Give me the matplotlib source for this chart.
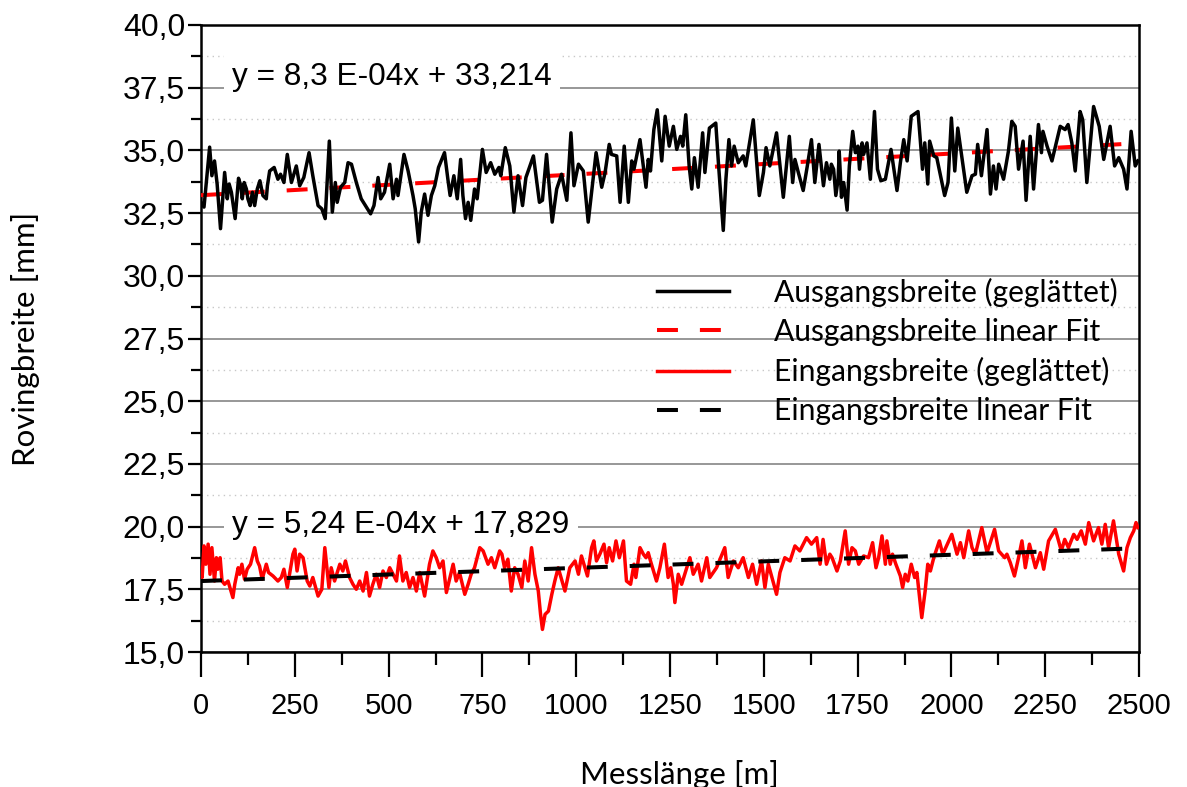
import matplotlib
matplotlib.use("Agg")
import matplotlib.pyplot as plt
from matplotlib.ticker import MultipleLocator, FixedLocator, FixedFormatter

# ---------------- data ----------------
out_x = [0, 8, 23, 29, 36, 43, 52, 63, 70, 75, 81, 91, 100, 106, 110, 115, 121, 125, 131, 137,
         143, 150, 157, 165, 174, 177, 183, 195, 205, 212, 221, 230, 241, 254, 263, 274, 288, 298,
         312, 322, 331, 342, 350, 358, 363, 372, 383, 392, 401, 414, 427, 452, 461, 472, 479, 489,
         503, 512, 521, 525, 541, 552, 565, 571, 580, 587, 596, 605, 614, 623, 633, 649, 658, 664,
         674, 683, 692, 698, 705, 712, 719, 729, 736, 750, 760, 772, 783, 794, 799, 811, 823, 834,
         845,
         857, 866, 886, 902, 910, 921, 936, 948, 961, 975, 986, 994, 1006, 1019, 1032, 1053, 1068,
         1077, 1088, 1094, 1108, 1117, 1128, 1139, 1148, 1154, 1170, 1186, 1192, 1198, 1207, 1216,
         1228, 1237, 1248, 1259, 1268, 1278, 1284, 1292, 1301, 1308, 1315, 1325, 1337, 1343, 1355,
         1372, 1379, 1386, 1392, 1399, 1407, 1414, 1421, 1432, 1445, 1452, 1472, 1488, 1499, 1506,
         1516, 1534, 1552, 1568, 1577, 1583, 1592, 1605, 1616, 1627, 1636, 1647, 1659, 1667, 1676,
         1680, 1686, 1692, 1698, 1701, 1707, 1713, 1722, 1728, 1737, 1744, 1751, 1755, 1762, 1766,
         1775, 1784, 1795, 1803, 1812, 1824, 1839, 1855, 1864, 1873, 1882, 1893, 1911, 1917, 1923,
         1929, 1937, 1942, 1953, 1961, 1982, 1991, 2000, 2009, 2017, 2041, 2055, 2064, 2070, 2080,
         2095, 2104, 2112, 2119, 2126, 2139, 2152, 2161, 2170, 2179, 2191, 2199, 2210, 2219, 2232,
         2240, 2244, 2255, 2268, 2290, 2303, 2311, 2321, 2330, 2343, 2350, 2361, 2379, 2394, 2406,
         2423, 2435, 2446, 2459, 2468, 2479, 2490, 2497]
out_w = [32.93, 32.74, 35.13, 33.99, 34.58, 33.66, 31.88, 34.12, 33.07, 33.66, 33.33, 32.28, 33.89,
         33.59, 33.07, 33.72, 33.46, 33.07, 32.80, 33.33, 32.80, 33.46, 33.79, 33.20, 33.07, 33.59,
         34.18, 34.32, 33.85, 34.05, 33.72, 34.84, 33.72, 34.38, 33.59, 33.92, 34.91, 33.99, 32.80,
         32.67, 32.28, 35.37, 32.54, 33.72, 32.93, 33.53, 33.72, 34.51, 34.45, 33.72, 33.07, 32.47,
         32.80, 33.92, 33.07, 33.33, 34.45, 33.07, 33.85, 33.20, 34.84, 34.18, 33.20, 32.67, 31.35,
         32.54, 33.26, 32.41, 33.20, 33.59, 34.32, 34.91, 33.85, 33.20, 33.99, 33.07, 34.64, 33.20,
         32.28, 32.93, 32.21, 33.46, 33.07, 35.04, 34.12, 34.51, 34.05, 34.32, 33.99, 35.11, 34.38,
         32.54, 33.99,
         32.80, 33.92, 34.78, 32.93, 33.01, 34.84, 32.14, 33.46, 34.05, 33.01, 35.70, 33.59, 34.45,
         34.18, 32.14, 34.91, 33.53, 34.12, 35.24, 34.84, 34.78, 32.93, 35.17, 32.93, 34.58, 34.25,
         35.43, 33.53, 34.64, 34.18, 35.83, 36.62, 34.58, 36.36, 35.17, 35.96, 35.04, 35.56, 35.17,
         36.42, 34.38, 33.46, 34.71, 33.53, 35.70, 34.12, 35.89, 36.09, 34.51, 33.07, 31.81, 33.85,
         35.43, 34.38, 35.17, 34.51, 34.78, 34.38, 36.22, 33.20, 34.12, 35.11, 34.38, 35.70, 33.13,
         35.56, 33.72, 34.64, 34.12, 33.40, 34.38, 35.43, 33.72, 35.24, 33.59, 34.51, 33.85,
         34.45, 34.25, 33.20, 33.85, 34.97, 33.13, 33.72, 32.62, 34.38, 35.76, 34.91, 35.17, 34.25,
         35.30, 34.84, 35.30, 33.85, 36.55, 34.25, 33.79, 33.85, 35.04, 33.40, 34.51, 35.43, 34.58,
         36.36, 36.55, 35.43, 34.25, 35.30, 33.66, 35.37, 34.78, 34.71, 33.20, 33.72, 36.29, 34.18,
         35.89, 33.33, 33.99, 34.05, 35.24, 33.99, 35.83, 33.26, 34.38, 33.46, 34.45, 33.85, 34.97,
         36.16, 35.96, 34.25, 35.37, 33.01, 35.56, 33.46, 36.03, 34.91, 35.76, 35.17, 34.58, 35.96,
         35.83, 36.03, 35.30, 34.18, 36.55, 36.22, 33.72, 36.75, 35.96, 34.64, 35.96, 34.38, 34.71,
         34.25, 33.46, 35.76, 34.38, 34.58]

in_x = [0, 3, 8, 13, 19, 24, 29, 36, 41, 45, 51, 56, 63, 72, 85, 90, 99, 103, 109, 116, 123, 132,
        143, 150, 156, 163, 174, 180, 192, 205, 214, 221, 230, 239, 245, 250, 256, 263, 272, 283,
        290, 298, 312, 322, 330, 341, 347, 356, 370, 378, 385, 396, 405, 414, 423, 432, 441, 449,
        458, 467, 476, 485, 494, 503, 512, 521, 529, 538, 547, 556, 565, 574, 583, 596, 609, 618,
        627, 636, 645, 654, 672, 680, 689, 703, 712, 720, 729, 743, 752, 765, 774, 783, 796, 802,
        809, 818, 827, 836, 845,
        855, 863, 872, 881, 890, 899, 905, 910, 917, 926, 935, 943, 952, 970, 983, 997, 1006, 1014,
        1030, 1041, 1047, 1054, 1063, 1074, 1081, 1088, 1097, 1106, 1115, 1126, 1134, 1145, 1154,
        1159, 1170, 1179, 1186, 1192, 1198, 1214, 1223, 1235, 1245, 1252, 1259, 1263, 1272, 1281,
        1303, 1312, 1325, 1334, 1348, 1356, 1374, 1396, 1405, 1419, 1432, 1445, 1459, 1470, 1481,
        1494, 1503, 1512, 1534, 1543, 1556, 1570, 1583, 1596, 1614, 1627, 1641, 1650, 1658, 1667,
        1676,
        1682, 1695, 1704, 1717, 1726, 1735, 1744, 1753, 1766, 1779, 1790, 1799, 1806, 1815, 1824,
        1828, 1837, 1843, 1852, 1864, 1870, 1877, 1884, 1893, 1902, 1908, 1921, 1930, 1937, 1944,
        1953, 1968, 1977, 2001, 2015, 2024, 2033, 2046, 2055, 2064, 2081, 2095, 2115, 2126, 2142,
        2148, 2157, 2168, 2179, 2188, 2197, 2208, 2224, 2237, 2246, 2259, 2277, 2293, 2302, 2312,
        2326, 2335, 2346, 2357, 2366, 2379, 2392, 2401, 2410, 2419, 2432, 2446, 2459, 2468, 2477,
        2486, 2492, 2497]
in_w = [18.17, 17.97, 19.23, 18.50, 19.30, 18.10, 19.16, 17.83, 18.76, 18.30, 18.76, 17.83, 17.70,
        17.83, 17.17, 17.70, 18.36, 18.10, 18.50, 17.90, 18.30, 18.50, 19.16, 18.63, 18.43, 17.90,
        18.50, 18.17, 18.03, 17.83, 17.97, 18.30, 17.57, 18.36, 18.90, 19.10, 18.23, 18.90, 18.76,
        17.83, 17.63, 17.97, 17.23, 17.50, 19.16, 17.57, 18.36, 17.83, 18.50, 18.23, 18.63, 17.97,
        17.70, 17.50, 17.83, 17.43, 18.17, 17.23, 17.70, 18.10, 17.57, 18.23, 17.97, 18.36, 18.10,
        17.83, 18.83, 17.83, 18.17, 17.57, 17.97, 17.43, 18.17, 17.23, 18.50, 19.03, 18.76, 18.36,
        18.63, 17.37, 18.50, 17.83, 18.17, 17.30, 17.70, 18.10, 18.36, 19.16, 19.03, 18.50, 18.76,
        18.36, 19.03, 18.90, 18.36, 18.70, 17.43, 18.36, 18.10,
        17.57, 18.63, 17.83, 19.16, 18.10, 17.43, 16.50, 15.90, 16.50, 16.63, 17.30, 17.83, 18.36,
        17.43, 18.36, 18.63, 18.10, 18.83, 18.03, 19.16, 19.43, 18.63, 18.90, 19.30, 18.56, 19.16,
        18.63, 19.43, 18.76, 19.43, 17.83, 17.70, 18.50, 17.97, 19.16, 18.90, 18.76, 18.96, 18.63,
        17.83, 18.36, 19.30, 17.97, 18.36, 17.70, 16.97, 18.10, 17.70, 18.76, 18.10, 18.50, 17.83,
        18.76, 17.97, 18.36, 19.16, 17.97, 18.63, 18.36, 18.76, 17.97, 18.50, 17.70, 18.63, 17.57,
        18.50, 17.30, 18.17, 18.76, 18.63, 19.23, 19.03, 19.56, 19.30, 19.56, 18.50, 19.49, 18.50,
        18.90,
        18.76, 18.23, 18.63, 19.83, 18.50, 19.16, 19.03, 18.50, 18.83, 18.76, 19.36, 18.36, 18.76,
        19.63, 18.50, 19.43, 18.50, 18.90, 18.50, 18.03, 17.57, 18.10, 17.83, 18.50, 17.97, 18.17,
        16.37, 17.43, 18.50, 18.23, 18.76, 19.43, 18.90, 19.69, 18.90, 19.36, 18.76, 19.83, 19.16,
        18.90, 19.96, 18.96, 19.89, 19.03, 18.76, 18.90, 18.56, 18.03, 18.76, 19.43, 18.36, 19.30,
        18.36, 18.96, 18.30, 19.43, 19.89, 19.03, 19.49, 19.16, 19.69, 19.49, 19.83, 19.30, 20.16,
        19.43, 19.96, 19.30, 20.09, 19.16, 20.23, 18.90, 18.23, 19.16, 19.56, 19.83, 20.16, 19.96]

# linear fits as printed on the chart
out_slope, out_intercept = 8.3e-4, 33.214
in_slope, in_intercept = 5.24e-4, 17.829
fit_x = [0, 2500]
out_fit = [out_intercept + out_slope * v for v in fit_x]
in_fit = [in_intercept + in_slope * v for v in fit_x]

x_ticks = [0, 250, 500, 750, 1000, 1250, 1500, 1750, 2000, 2250, 2500]
x_tick_labels = ["0", "250", "500", "750", "1000", "1250", "1500", "1750", "2000", "2250", "2500"]
y_ticks = [15.0, 17.5, 20.0, 22.5, 25.0, 27.5, 30.0, 32.5, 35.0, 37.5, 40.0]
y_tick_labels = ["15,0", "17,5", "20,0", "22,5", "25,0", "27,5", "30,0", "32,5", "35,0", "37,5", "40,0"]

legend_labels = ["Ausgangsbreite (geglättet)", "Ausgangsbreite linear Fit",
                 "Eingangsbreite (geglättet)", "Eingangsbreite linear Fit"]
eq_out = "y = 8,3 E-04x + 33,214"
eq_in = "y = 5,24 E-04x + 17,829"

# ---------------- figure ----------------
CAL = ["Lato", "DejaVu Sans"]
ARI = ["Liberation Sans", "DejaVu Sans"]

fig = plt.figure(figsize=(11.87, 7.87), dpi=100)
ax = fig.add_axes([201 / 1187, 1 - 652 / 787, 938 / 1187, 627 / 787])

dash = (5.2, 5.45)
l_out, = ax.plot(out_x, out_w, color="black", lw=2.5, zorder=4, solid_joinstyle="round")
l_outfit, = ax.plot(fit_x, out_fit, color="#ff0000", lw=2.9, dashes=dash, zorder=3)
l_in, = ax.plot(in_x, in_w, color="#ff0000", lw=2.5, zorder=3, solid_joinstyle="round")
l_infit, = ax.plot(fit_x, in_fit, color="black", lw=2.9, dashes=dash, zorder=4)

ax.set_xlim(0, 2500)
ax.set_ylim(15, 40)

ax.xaxis.set_major_locator(FixedLocator(x_ticks))
ax.xaxis.set_major_formatter(FixedFormatter(x_tick_labels))
ax.xaxis.set_minor_locator(MultipleLocator(125))
ax.yaxis.set_major_locator(FixedLocator(y_ticks))
ax.yaxis.set_major_formatter(FixedFormatter(y_tick_labels))
ax.yaxis.set_minor_locator(MultipleLocator(1.25))

ax.tick_params(axis="x", which="major", direction="out", length=18, width=1.6, pad=11, labelsize=21)
ax.tick_params(axis="x", which="minor", direction="out", length=9, width=1.6)
ax.tick_params(axis="y", which="major", direction="out", length=9.5, width=1.6, pad=2, labelsize=23)
ax.tick_params(axis="y", which="minor", direction="out", length=7, width=1.6)
for lab in ax.get_xticklabels() + ax.get_yticklabels():
    lab.set_family(ARI)

for s in ax.spines.values():
    s.set_linewidth(1.8)
    s.set_color("black")

ax.set_axisbelow(True)
ax.yaxis.grid(True, which="major", color="#8f8f8f", lw=1.3, ls="-")
ax.yaxis.grid(True, which="minor", color="#c8c8c8", lw=1.0, ls=(0, (1, 3)))
ax.xaxis.grid(False)

ax.set_xlabel("Messlänge [m]", family=CAL, fontsize=22.5)
ax.xaxis.set_label_coords(0.51, -0.172)
ax.set_ylabel("Rovingbreite [mm]", family=CAL, fontsize=22.5)
ax.yaxis.set_label_coords(-0.172, 0.5)

bb = dict(facecolor="white", edgecolor="none", pad=6)
ax.text(83, 37.93, eq_out, family=ARI, fontsize=22.8, ha="left", va="center", bbox=bb, zorder=2.5)
ax.text(83, 20.05, eq_in, family=ARI, fontsize=22.8, ha="left", va="center", bbox=bb, zorder=2.5)

leg = ax.legend([l_out, l_outfit, l_in, l_infit], legend_labels,
                loc="upper left", bbox_to_anchor=(0.486, 0.597), frameon=False,
                prop={"family": CAL, "size": 21.6}, handlelength=2.4, handletextpad=1.5,
                labelspacing=0.37, borderpad=0, borderaxespad=0)

fig.savefig("out.png", dpi=100)
